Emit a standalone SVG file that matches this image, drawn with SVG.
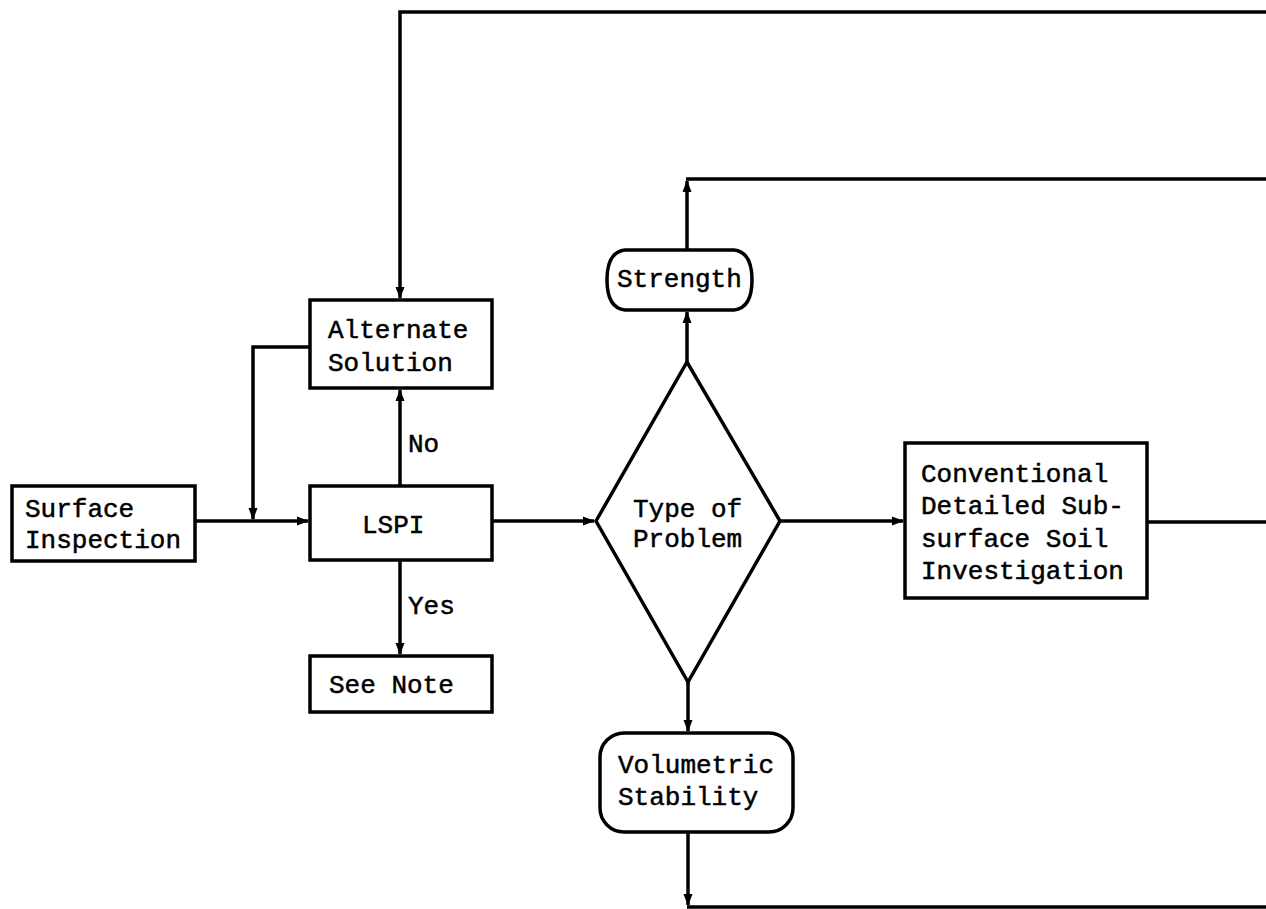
<svg xmlns="http://www.w3.org/2000/svg" width="1266" height="909" viewBox="0 0 1266 909">
<style>
.box{fill:#fff;stroke:#000;stroke-width:3.5}
.ln{fill:none;stroke:#000;stroke-width:3.5}
.t{font-family:"Liberation Mono","DejaVu Sans Mono",monospace;font-size:26px;fill:#000;stroke:#000;stroke-width:0.5}
</style>
<defs>
<marker id="ah" markerWidth="12" markerHeight="10" refX="11" refY="5" orient="auto" markerUnits="userSpaceOnUse">
<path d="M0,0.5 L12,5 L0,9.5 Z" fill="#000"/>
</marker>
</defs>
<rect width="1266" height="909" fill="#fff"/>
<g id="connectors">
<path class="ln" d="M1266,12 H400 V298" marker-end="url(#ah)"/>
<path class="ln" d="M310,347 H253 V519" marker-end="url(#ah)"/>
<path class="ln" d="M195,521 H308" marker-end="url(#ah)"/>
<path class="ln" d="M400,486 V390" marker-end="url(#ah)"/>
<path class="ln" d="M400,560 V654" marker-end="url(#ah)"/>
<path class="ln" d="M492,521 H594" marker-end="url(#ah)"/>
<path class="ln" d="M687,362 V312" marker-end="url(#ah)"/>
<path class="ln" d="M687,250 V181" marker-end="url(#ah)"/>
<path class="ln" d="M686,179 H1266"/>
<path class="ln" d="M780,521 H903" marker-end="url(#ah)"/>
<path class="ln" d="M1147,522 H1266"/>
<path class="ln" d="M688,682 V731" marker-end="url(#ah)"/>
<path class="ln" d="M688,832 V905" marker-end="url(#ah)"/>
<path class="ln" d="M687,907 H1266"/>
</g>
<g id="surface-inspection">
<rect class="box" x="12" y="486" width="183" height="75"/>
<text class="t" x="25" y="517">Surface</text>
<text class="t" x="25" y="548">Inspection</text>
</g>
<g id="alternate-solution">
<rect class="box" x="310" y="300" width="182" height="88"/>
<text class="t" x="328" y="338">Alternate</text>
<text class="t" x="328" y="371">Solution</text>
</g>
<g id="lspi">
<rect class="box" x="310" y="486" width="182" height="74"/>
<text class="t" x="362" y="533">LSPI</text>
</g>
<g id="label-no"><text class="t" x="408" y="452">No</text></g>
<g id="label-yes"><text class="t" x="408" y="614">Yes</text></g>
<g id="see-note">
<rect class="box" x="310" y="656" width="182" height="56"/>
<text class="t" x="329" y="693">See Note</text>
</g>
<g id="type-of-problem">
<polygon class="box" points="596,521 687,362 780,521 688,682"/>
<text class="t" x="633" y="517">Type of</text>
<text class="t" x="633" y="547">Problem</text>
</g>
<g id="strength">
<path class="box" d="M625,250 H734 Q752,252 752,280 Q752,308 734,310 H625 Q607,308 607,280 Q607,252 625,250 Z"/>
<text class="t" x="617" y="287">Strength</text>
</g>
<g id="volumetric-stability">
<rect class="box" x="600" y="733" width="193" height="99" rx="24" ry="24"/>
<text class="t" x="618" y="773">Volumetric</text>
<text class="t" x="618" y="805">Stability</text>
</g>
<g id="conventional-investigation">
<rect class="box" x="905" y="443" width="242" height="155"/>
<text class="t" x="921" y="482">Conventional</text>
<text class="t" x="921" y="514">Detailed Sub-</text>
<text class="t" x="921" y="547">surface Soil</text>
<text class="t" x="921" y="579">Investigation</text>
</g>
</svg>
